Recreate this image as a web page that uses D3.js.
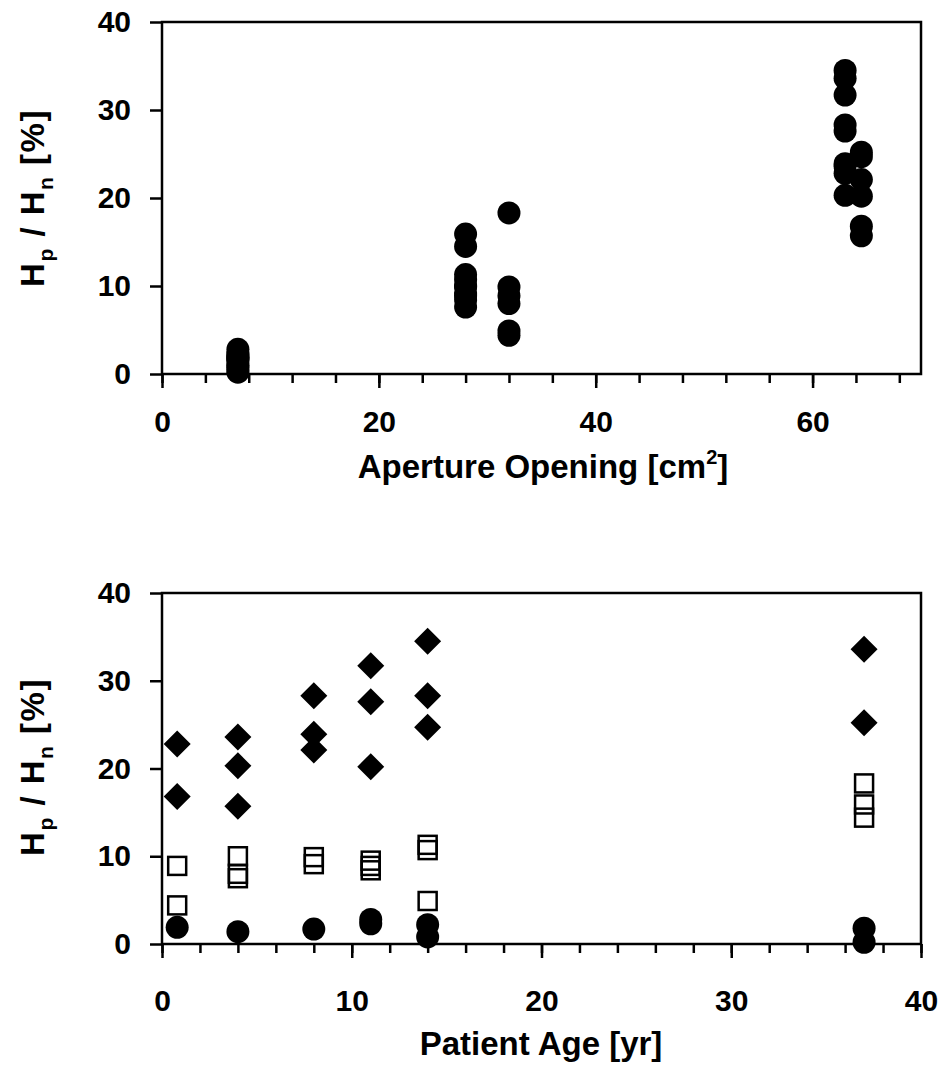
<!DOCTYPE html>
<html><head><meta charset="utf-8">
<script src="https://cdn.jsdelivr.net/npm/d3@7"></script>
<style>body{margin:0;background:#fff}svg{display:block}text{font-family:"Liberation Sans",Arial,sans-serif;font-weight:bold}</style>
</head><body><svg id="c" width="945" height="1075"></svg>
<script>
// ---- Top chart: aperture opening vs Hp/Hn ----
const apertureX = [7,7,7,7,7,7,7,7,7,7,7, 28,28,28,28,28,28,28,28,28,28, 32,32,32,32,32,32, 63,63,63,63,63,63,63,63,63, 64.5,64.5,64.5,64.5,64.5,64.5];
const apertureY = [1.9,1.4,1.7,2.8,2.3,2.2,0.8,1.8,0.2,1.0,0.5, 15.9,14.5,11.3,10.7,10.0,9.9,9.1,8.9,8.4,7.6, 18.3,9.9,8.9,8.0,4.9,4.4, 34.5,33.6,31.7,28.3,27.6,23.9,23.6,22.8,20.3, 25.2,24.7,22.1,20.2,16.8,15.7];

// ---- Bottom chart: patient age vs Hp/Hn ----
const ageCategories = [0.8, 4, 8, 11, 14, 37];
const diamondAge = [0.8,0.8, 4,4,4, 8,8,8, 11,11,11, 14,14,14, 37,37];
const diamondVal = [22.8,16.8, 23.6,20.3,15.7, 28.3,23.9,22.1, 31.7,27.6,20.2, 34.5,28.3,24.7, 33.6,25.2];
const squareAge = [0.8,0.8, 4,4,4, 8,8, 11,11,11, 14,14,14, 37,37,37];
const squareVal = [8.9,4.4, 10.0,8.0,7.5, 9.9,9.1, 9.5,8.9,8.4, 11.3,10.7,4.9, 18.3,15.9,14.4];
const circleAge = [0.8, 4, 8, 11,11, 14,14, 37,37];
const circleVal = [1.9, 1.4, 1.7, 2.8,2.3, 2.2,0.8, 1.8,0.2];

const yTicks = [0,10,20,30,40];
const topXTicks = [0,20,40,60];
const botXTicks = [0,10,20,30,40];

const svg = d3.select("#c");
const L = 162, R = 921;

function panel(opt){
  const g = svg.append("g");
  const x = d3.scaleLinear().domain(opt.xdom).range([L,R]);
  const y = d3.scaleLinear().domain([0,40]).range([opt.bottom, opt.top]);
  g.append("rect").attr("x",L).attr("y",opt.top).attr("width",R-L).attr("height",opt.bottom-opt.top)
    .attr("fill","none").attr("stroke","#000").attr("stroke-width",2.5);
  const gmin = g.append("g").attr("transform",`translate(0,${opt.bottom})`)
    .call(d3.axisBottom(x).tickValues(opt.minor).tickSize(9).tickFormat(""));
  const gmaj = g.append("g").attr("transform",`translate(0,${opt.bottom})`)
    .call(d3.axisBottom(x).tickValues(opt.major).tickSize(14).tickPadding(opt.xpad).tickFormat(d3.format("d")));
  const gy = g.append("g").attr("transform",`translate(${L},0)`)
    .call(d3.axisLeft(y).tickValues(yTicks).tickSize(12).tickPadding(19).tickFormat(d3.format("d")));
  [gmin,gmaj,gy].forEach(a=>{
    a.select(".domain").remove();
    a.selectAll("line").attr("stroke","#000").attr("stroke-width",2.5);
    a.selectAll("text").attr("font-size",30).attr("font-weight","bold").attr("fill","#000")
      .attr("font-family","Liberation Sans, Arial, sans-serif");
  });
  const yt = g.append("text").attr("transform",`translate(44,${opt.ymid}) rotate(-90)`)
    .attr("text-anchor","middle").attr("font-size",33).attr("letter-spacing",1.5).attr("fill","#000");
  yt.append("tspan").text("H");
  yt.append("tspan").text("p").attr("font-size",21).attr("dy",9);
  yt.append("tspan").text(" / H").attr("dy",-9);
  yt.append("tspan").text("n").attr("font-size",21).attr("dy",9);
  yt.append("tspan").text(" [%]").attr("dy",-9);
  return {g,x,y};
}

// Top
const minorTop = d3.range(0,69,4);
const p1 = panel({xdom:[0,70], top:22, bottom:374, major:topXTicks, minor:minorTop, xpad:23, ymid:198});
p1.g.selectAll("circle.pt").data(apertureX.map((d,i)=>[d,apertureY[i]])).join("circle")
  .attr("class","pt").attr("cx",d=>p1.x(d[0])).attr("cy",d=>p1.y(d[1])).attr("r",11.5).attr("fill","#000");
const xt1 = p1.g.append("text").attr("x",543).attr("y",478).attr("text-anchor","middle").attr("font-size",33).attr("fill","#000");
xt1.append("tspan").text("Aperture Opening [cm");
xt1.append("tspan").text("2").attr("font-size",20).attr("dy",-14);
xt1.append("tspan").text("]").attr("dy",14);

// Bottom
const minorBot = d3.range(0,41,2);
const p2 = panel({xdom:[0,40], top:593, bottom:944, major:botXTicks, minor:minorBot, xpad:32, ymid:767});
p2.g.selectAll("circle.pt").data(circleAge.map((d,i)=>[d,circleVal[i]])).join("circle")
  .attr("class","pt").attr("cx",d=>p2.x(d[0])).attr("cy",d=>p2.y(d[1])).attr("r",11.5).attr("fill","#000");
p2.g.selectAll("rect.sq").data(squareAge.map((d,i)=>[d,squareVal[i]])).join("rect")
  .attr("class","sq").attr("x",d=>p2.x(d[0])-9).attr("y",d=>p2.y(d[1])-9).attr("width",18).attr("height",18)
  .attr("fill","none").attr("stroke","#000").attr("stroke-width",2.5);
p2.g.selectAll("path.dm").data(diamondAge.map((d,i)=>[d,diamondVal[i]])).join("path")
  .attr("class","dm").attr("transform",d=>`translate(${p2.x(d[0])},${p2.y(d[1])})`)
  .attr("d","M0,-13.5L13.5,0L0,13.5L-13.5,0Z").attr("fill","#000");
p2.g.append("text").attr("x",541).attr("y",1055).attr("text-anchor","middle").attr("font-size",33).attr("fill","#000")
  .text("Patient Age [yr]");
</script></body></html>
